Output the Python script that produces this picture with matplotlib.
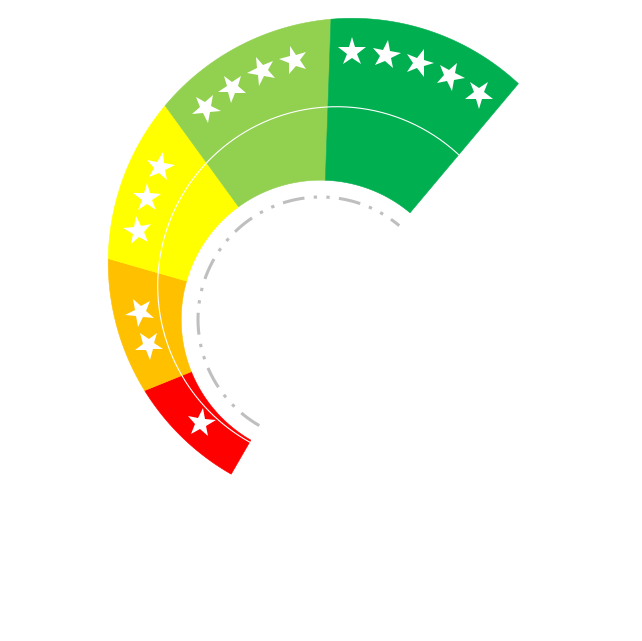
import numpy as np
import matplotlib
matplotlib.use("Agg")
import matplotlib.pyplot as plt
from matplotlib.patches import Polygon
from matplotlib.markers import MarkerStyle
from matplotlib.transforms import Affine2D

plt.rcParams["lines.scale_dashes"] = False

# ---- data ----
ratings = ["1 star", "2 stars", "3 stars", "4 stars", "5 stars"]
star_counts = [1, 2, 3, 4, 5]
shares = [1, 1, 1, 1, 1]
colors = ["#FF0000", "#FFC000", "#FFFF00", "#92D050", "#00B050"]

# ---- geometry (pixel units, origin at gauge centre, y up) ----
START_DEG = 240.0
SPAN_DEG = 190.0
R_IN = 139.3
OUTER_C, OUTER_R = np.array([31.7, 57.2]), 244.0
WHITE_C, WHITE_R = np.array([16.2, 33.8]), 179.0
STAR_C, STAR_R = np.array([30.5, 51.4]), 215.9
DASH_R = 122.5
STAR_STEP = 9.0


def ray_circle(theta_deg, c, R):
    th = np.radians(theta_deg)
    u = np.stack([np.cos(th), np.sin(th)], axis=-1)
    b = u @ c
    t = b + np.sqrt(b ** 2 - c @ c + R ** 2)
    return u * t[..., None]


fig = plt.figure(figsize=(6.42, 6.41), dpi=100)
ax = fig.add_axes([0, 0, 1, 1])
ax.set_xlim(-320.5, 321.5)
ax.set_ylim(-321.5, 319.5)
ax.set_aspect("equal")
ax.axis("off")

total = sum(shares)
edges = START_DEG - SPAN_DEG * np.concatenate([[0], np.cumsum(shares)]) / total

for i, (lab, n, col) in enumerate(zip(ratings, star_counts, colors)):
    a, b = edges[i], edges[i + 1]
    th = np.linspace(a, b, 120)
    outer = ray_circle(th, OUTER_C, OUTER_R)
    rad = np.radians(th[::-1])
    inner = np.stack([R_IN * np.cos(rad), R_IN * np.sin(rad)], axis=-1)
    poly = Polygon(np.vstack([outer, inner]), closed=True, facecolor=col,
                   edgecolor=col, linewidth=0.4, zorder=2, label=lab)
    ax.add_patch(poly)

    mid = (a + b) / 2
    p = ray_circle(np.array([mid]), STAR_C, STAR_R)[0] - STAR_C
    phi_mid = np.degrees(np.arctan2(p[1], p[0]))
    for k in range(n):
        phi = phi_mid + STAR_STEP * (k - (n - 1) / 2)
        x = STAR_C[0] + STAR_R * np.cos(np.radians(phi))
        y = STAR_C[1] + STAR_R * np.sin(np.radians(phi))
        m = MarkerStyle("*", transform=Affine2D().rotate_deg(phi - 90))
        ax.plot([x], [y], marker=m, markersize=21.5, color="white",
                markeredgewidth=0, linestyle="none", zorder=4)

# thin white arc
th = np.linspace(edges[0], edges[-1], 300)
w = ray_circle(th, WHITE_C, WHITE_R)
ax.plot(w[:, 0], w[:, 1], color="white", linewidth=0.8, zorder=3)

# dash-dot-dot inner arc
th = np.radians(np.linspace(edges[0], edges[-1], 400))
ax.plot(DASH_R * np.cos(th), DASH_R * np.sin(th), color="#BFBFBF",
        linewidth=2.2, dashes=(15.8, 6.7, 2.4, 6.7, 2.4, 6.7),
        dash_capstyle="butt", zorder=1)

fig.savefig("out.png", dpi=100, facecolor="white")
